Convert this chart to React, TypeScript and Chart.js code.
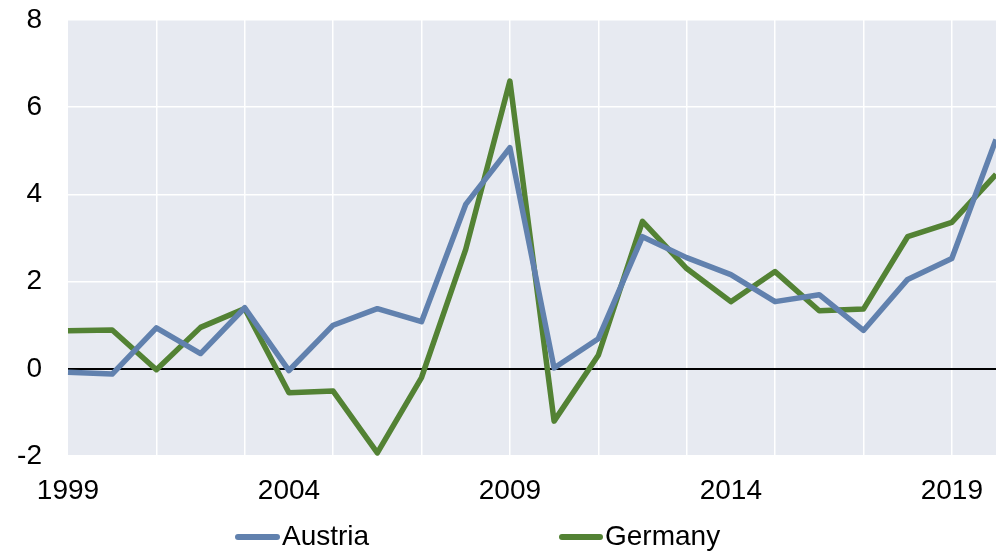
import React, { useEffect, useRef } from "react";
import { Chart, registerables } from "chart.js";

Chart.register(...registerables);

const years: string[] = [
  "1999", "2000", "2001", "2002", "2003", "2004", "2005", "2006", "2007", "2008", "2009",
  "2010", "2011", "2012", "2013", "2014", "2015", "2016", "2017", "2018", "2019", "2020",
];
const austria: number[] = [
  -0.08, -0.12, 0.94, 0.35, 1.4, -0.04, 1.0, 1.38, 1.08, 3.77, 5.07,
  0.02, 0.69, 3.03, 2.55, 2.16, 1.54, 1.7, 0.88, 2.05, 2.53, 5.26,
];
const germany: number[] = [
  0.87, 0.89, -0.02, 0.95, 1.38, -0.55, -0.51, -1.93, -0.2, 2.74, 6.6,
  -1.2, 0.31, 3.38, 2.3, 1.54, 2.23, 1.33, 1.37, 3.03, 3.36, 4.46,
];
const yTicks: number[] = [-2, 0, 2, 4, 6, 8];
const labelYears: string[] = ["1999", "2004", "2009", "2014", "2019"];

const BLUE = "#6181AE";
const GREEN = "#538234";
const PLOT_BG = "#E7EAF1";
const FONT = "'Liberation Sans', Arial, sans-serif";
const FONT_SIZE = 28;

const bgPlugin = {
  id: "plotBg",
  beforeDraw(chart: any) {
    const { ctx, chartArea } = chart;
    if (!chartArea) return;
    ctx.save();
    ctx.fillStyle = PLOT_BG;
    ctx.fillRect(chartArea.left, chartArea.top, chartArea.right - chartArea.left, chartArea.bottom - chartArea.top);
    ctx.restore();
  },
};

export default function App() {
  const ref = useRef<HTMLCanvasElement | null>(null);

  useEffect(() => {
    if (!ref.current) return;
    const chart = new Chart(ref.current, {
      type: "line",
      data: {
        labels: years,
        datasets: [
          {
            label: "Austria",
            data: austria,
            borderColor: BLUE,
            backgroundColor: BLUE,
            borderWidth: 5.5,
            pointRadius: 0,
            borderJoinStyle: "round",
            tension: 0,
          },
          {
            label: "Germany",
            data: germany,
            borderColor: GREEN,
            backgroundColor: GREEN,
            borderWidth: 5.5,
            pointRadius: 0,
            borderJoinStyle: "round",
            tension: 0,
          },
        ],
      },
      options: {
        responsive: false,
        animation: false,
        devicePixelRatio: 1,
        layout: { padding: { top: 20, left: 0, right: 0, bottom: 0 } },
        plugins: {
          legend: { display: false },
          tooltip: { enabled: false },
        },
        scales: {
          x: {
            type: "category",
            offset: false,
            border: { display: false },
            grid: {
              drawTicks: false,
              lineWidth: 1.5,
              color: (ctx: any) => {
                const i = ctx.index;
                if (i === undefined) return "rgba(0,0,0,0)";
                const y = Number(years[i]);
                return y % 2 === 1 && y > 1999 ? "#FFFFFF" : "rgba(0,0,0,0)";
              },
            },
            ticks: {
              autoSkip: false,
              maxRotation: 0,
              minRotation: 0,
              padding: 18,
              color: "#000000",
              font: { family: FONT, size: FONT_SIZE },
              callback: (_v: any, i: number) => (labelYears.includes(years[i]) ? years[i] : ""),
            },
            afterFit: (scale: any) => {
              scale.height = 95;
              scale.paddingLeft = 0;
              scale.paddingRight = 0;
              scale.paddingTop = 0;
              scale.paddingBottom = 0;
            },
          },
          y: {
            min: yTicks[0],
            max: yTicks[yTicks.length - 1],
            border: { display: false },
            afterBuildTicks: (scale: any) => {
              scale.ticks = yTicks.map((v) => ({ value: v }));
            },
            grid: {
              drawTicks: false,
              lineWidth: (ctx: any) => (ctx.tick && ctx.tick.value === 0 ? 2 : 1.5),
              color: (ctx: any) => (ctx.tick && ctx.tick.value === 0 ? "#000000" : "#FFFFFF"),
            },
            ticks: {
              padding: 26,
              color: "#000000",
              font: { family: FONT, size: FONT_SIZE },
              callback: (v: any) => String(v),
            },
            afterFit: (scale: any) => {
              scale.width = 68;
              scale.paddingLeft = 0;
              scale.paddingRight = 0;
              scale.paddingTop = 0;
              scale.paddingBottom = 0;
            },
          },
        },
      },
      plugins: [bgPlugin],
    });
    return () => chart.destroy();
  }, []);

  const legendText: React.CSSProperties = {
    position: "absolute",
    fontFamily: FONT,
    fontSize: FONT_SIZE,
    lineHeight: "28px",
    color: "#000",
    whiteSpace: "nowrap",
  };
  const legendLine: React.CSSProperties = {
    position: "absolute",
    height: 6,
    borderRadius: 3,
  };

  return (
    <div style={{ position: "fixed", left: 0, top: 0, width: 996, height: 551, background: "#fff" }}>
      <canvas ref={ref} width={996} height={551} style={{ display: "block", width: 996, height: 551 }} />
      <div style={{ ...legendLine, left: 235, top: 534, width: 45, background: BLUE }} />
      <div style={{ ...legendText, left: 282, top: 522 }}>Austria</div>
      <div style={{ ...legendLine, left: 559, top: 534, width: 44, background: GREEN }} />
      <div style={{ ...legendText, left: 605, top: 522 }}>Germany</div>
    </div>
  );
}
